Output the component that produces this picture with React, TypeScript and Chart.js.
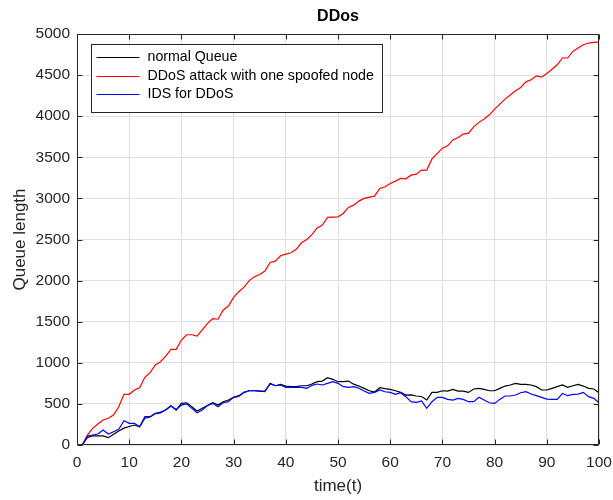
import React, { useEffect, useRef } from "react";
import { Chart, registerables } from "chart.js";

Chart.register(...registerables);

// Simulation time steps
const timeSteps = [
  1, 2, 3, 4, 5, 6, 7, 8, 9, 10, 11, 12, 13, 14, 15, 16, 17, 18, 19, 20,
  21, 22, 23, 24, 25, 26, 27, 28, 29, 30, 31, 32, 33, 34, 35, 36, 37, 38, 39, 40,
  41, 42, 43, 44, 45, 46, 47, 48, 49, 50, 51, 52, 53, 54, 55, 56, 57, 58, 59, 60,
  61, 62, 63, 64, 65, 66, 67, 68, 69, 70, 71, 72, 73, 74, 75, 76, 77, 78, 79, 80,
  81, 82, 83, 84, 85, 86, 87, 88, 89, 90, 91, 92, 93, 94, 95, 96, 97, 98, 99, 100,
];

// Queue length without attack
const normalQueue = [
  0, 93, 110, 110, 110, 89, 130, 170, 205, 225, 243, 222, 325, 340, 380, 390, 430, 478, 425, 507,
  514, 466, 413, 446, 480, 514, 486, 527, 547, 580, 600, 640, 660, 660, 655, 648, 750, 721, 738, 717,
  710, 710, 721, 721, 742, 770, 778, 819, 799, 770, 770, 778, 740, 717, 689, 660, 644, 697, 685, 677,
  660, 640, 608, 610, 596, 590, 547, 640, 640, 660, 656, 677, 656, 656, 640, 681, 689, 677, 660, 660,
  689, 717, 730, 750, 738, 738, 730, 710, 669, 669, 689, 710, 730, 701, 721, 738, 717, 689, 681, 636,
];

// Queue length under DDoS with one spoofed node
const ddosQueue = [
  0, 120, 203, 255, 305, 325, 365, 465, 617, 617, 670, 697, 823, 880, 973, 1013, 1082, 1163, 1163, 1277,
  1341, 1341, 1325, 1400, 1480, 1536, 1530, 1640, 1690, 1796, 1865, 1920, 2000, 2047, 2075, 2116, 2221, 2237, 2302, 2322,
  2338, 2380, 2460, 2500, 2560, 2640, 2675, 2769, 2772, 2776, 2817, 2890, 2918, 2967, 3000, 3015, 3028, 3121, 3141, 3182,
  3210, 3243, 3238, 3283, 3295, 3344, 3344, 3480, 3545, 3611, 3640, 3712, 3741, 3782, 3794, 3871, 3925, 3965, 4017, 4086,
  4147, 4208, 4257, 4310, 4350, 4418, 4443, 4491, 4475, 4520, 4572, 4625, 4708, 4708, 4789, 4830, 4870, 4890, 4897, 4900,
];

// Queue length with the IDS active
const idsQueue = [
  0, 110, 122, 134, 182, 134, 162, 190, 296, 264, 264, 222, 344, 344, 385, 400, 425, 474, 433, 486,
  500, 446, 393, 425, 480, 507, 466, 514, 527, 580, 590, 640, 660, 660, 656, 660, 742, 721, 730, 701,
  701, 701, 701, 689, 726, 742, 730, 750, 770, 750, 710, 701, 710, 690, 656, 628, 640, 669, 648, 640,
  616, 636, 588, 527, 518, 535, 446, 527, 580, 580, 555, 547, 567, 555, 527, 527, 580, 547, 514, 506,
  555, 596, 596, 608, 636, 648, 620, 600, 580, 559, 555, 555, 628, 600, 616, 620, 640, 588, 567, 514,
];

const seriesLabels = ["normal Queue", "DDoS attack with one spoofed node", "IDS for DDoS"];
const seriesColors = ["#000000", "#ff0000", "#0000ff"];

const xTickValues = [0, 10, 20, 30, 40, 50, 60, 70, 80, 90, 100];
const xTickLabels = ["0", "10", "20", "30", "40", "50", "60", "70", "80", "90", "100"];
const yTickValues = [0, 500, 1000, 1500, 2000, 2500, 3000, 3500, 4000, 4500, 5000];
const yTickLabels = ["0", "500", "1000", "1500", "2000", "2500", "3000", "3500", "4000", "4500", "5000"];

const FONT = "'Liberation Sans', Arial, Helvetica, sans-serif";
const AXIS_COLOR = "#262626";

// Box around the axes, inward tick marks on all four sides, and a boxed legend
const axesBoxPlugin = {
  id: "axesBox",
  afterDatasetsDraw(chart: any) {
    const { ctx, chartArea } = chart;
    const xs = chart.scales.x;
    const ys = chart.scales.y;
    const L = Math.round(chartArea.left) + 0.5;
    const R = Math.round(chartArea.right) - 0.5;
    const T = Math.round(chartArea.top) + 0.5;
    const B = Math.round(chartArea.bottom) - 0.5;
    const tickLen = 5;
    ctx.save();
    ctx.strokeStyle = AXIS_COLOR;
    ctx.lineWidth = 1;
    ctx.beginPath();
    ctx.rect(L, T, R - L, B - T);
    xTickValues.forEach((v) => {
      const px = Math.round(xs.getPixelForValue(v)) + 0.5;
      ctx.moveTo(px, B);
      ctx.lineTo(px, B - tickLen);
      ctx.moveTo(px, T);
      ctx.lineTo(px, T + tickLen);
    });
    yTickValues.forEach((v) => {
      const py = Math.round(ys.getPixelForValue(v)) + 0.5;
      ctx.moveTo(L, py);
      ctx.lineTo(L + tickLen, py);
      ctx.moveTo(R, py);
      ctx.lineTo(R - tickLen, py);
    });
    ctx.stroke();

    // legend
    const lx = Math.round(chartArea.left) + 14 + 0.5;
    const ly = Math.round(chartArea.top) + 10 + 0.5;
    const lw = 291;
    const lh = 68;
    ctx.fillStyle = "#ffffff";
    ctx.fillRect(lx, ly, lw, lh);
    ctx.strokeStyle = AXIS_COLOR;
    ctx.strokeRect(lx, ly, lw, lh);
    ctx.font = `14.2px ${FONT}`;
    ctx.textBaseline = "middle";
    ctx.textAlign = "left";
    chart.data.datasets.forEach((ds: any, i: number) => {
      const cy = Math.round(ly + 12.5 + i * 18.6) + 0.5;
      ctx.strokeStyle = ds.borderColor;
      ctx.lineWidth = 1.2;
      ctx.beginPath();
      ctx.moveTo(lx + 5, cy);
      ctx.lineTo(lx + 48, cy);
      ctx.stroke();
      ctx.fillStyle = "#000000";
      ctx.fillText(ds.label, lx + 56, cy);
    });
    ctx.restore();
  },
};

export default function App() {
  const canvasRef = useRef<HTMLCanvasElement | null>(null);

  useEffect(() => {
    const canvas = canvasRef.current;
    if (!canvas) return;
    const series = [normalQueue, ddosQueue, idsQueue];
    const drawOrder = [2, 1, 0];
    const chart = new Chart(canvas, {
      type: "line",
      data: {
        datasets: series.map((values, i) => ({
          label: seriesLabels[i],
          data: timeSteps.map((t, j) => ({ x: t, y: values[j] })),
          borderColor: seriesColors[i],
          backgroundColor: seriesColors[i],
          borderWidth: 1.2,
          pointRadius: 0,
          tension: 0,
          fill: false,
          order: drawOrder[i],
        })),
      },
      options: {
        responsive: false,
        animation: false,
        devicePixelRatio: 1,
        layout: { padding: { left: 0, right: 14, top: 0, bottom: 0 } },
        plugins: {
          legend: { display: false },
          tooltip: { enabled: false },
          title: {
            display: true,
            text: "DDos",
            fullSize: false,
            color: "#000000",
            font: { family: FONT, size: 16, weight: "bold" },
            padding: { top: 7.4, bottom: 7.4 },
          },
        },
        scales: {
          x: {
            type: "linear",
            min: 0,
            max: 100,
            afterBuildTicks: (scale: any) => {
              scale.ticks = xTickValues.map((v) => ({ value: v }));
            },
            afterFit: (scale: any) => {
              scale.height = 55;
              scale.paddingLeft = 0;
              scale.paddingRight = 0;
            },
            grid: { color: "#e0e0e0", drawTicks: false },
            border: { display: false },
            ticks: {
              color: AXIS_COLOR,
              padding: 8,
              maxRotation: 0,
              font: { family: FONT, size: 15.5 },
              callback: (value: any) => xTickLabels[xTickValues.indexOf(Number(value))] ?? "",
            },
            title: {
              display: true,
              text: "time(t)",
              color: AXIS_COLOR,
              font: { family: FONT, size: 17 },
              padding: { top: 0, bottom: 3 },
            },
          },
          y: {
            type: "linear",
            min: 0,
            max: 5000,
            afterBuildTicks: (scale: any) => {
              scale.ticks = yTickValues.map((v) => ({ value: v }));
            },
            afterFit: (scale: any) => {
              scale.width = 77;
              scale.paddingTop = 0;
              scale.paddingBottom = 0;
            },
            grid: { color: "#e0e0e0", drawTicks: false },
            border: { display: false },
            ticks: {
              color: AXIS_COLOR,
              padding: 7,
              font: { family: FONT, size: 15.5 },
              callback: (value: any) => yTickLabels[yTickValues.indexOf(Number(value))] ?? "",
            },
            title: {
              display: true,
              text: "Queue length",
              color: AXIS_COLOR,
              font: { family: FONT, size: 17 },
              padding: { top: 10, bottom: 0 },
            },
          },
        },
      },
      plugins: [axesBoxPlugin],
    });
    return () => chart.destroy();
  }, []);

  return (
    <div style={{ position: "fixed", left: 0, top: 0, width: 613, height: 500, background: "#ffffff" }}>
      <canvas ref={canvasRef} width={613} height={500} style={{ display: "block" }} />
    </div>
  );
}
